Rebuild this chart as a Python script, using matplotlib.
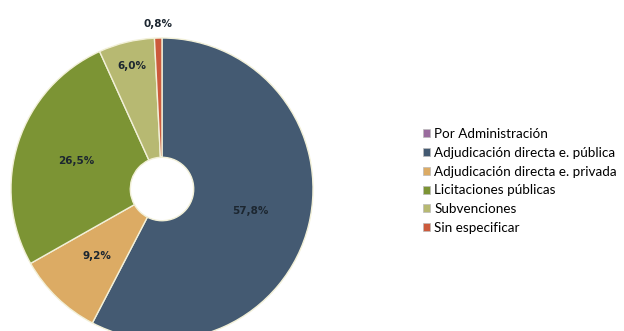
import matplotlib.pyplot as plt
import numpy as np

categorias = ['Por Administración', 'Adjudicación directa e. pública',
              'Adjudicación directa e. privada', 'Licitaciones públicas',
              'Subvenciones', 'Sin especificar']
valores = [0.0, 57.8, 9.2, 26.5, 6.0, 0.8]
etiquetas = ['', '57,8%', '9,2%', '26,5%', '6,0%', '0,8%']

colores = ['#9a6c9e', '#445a72', '#dcab64', '#7c9434', '#b7b972', '#cc5a3c']
# distancia radial de cada etiqueta (como la pone Excel)
dist_etiqueta = [0.6, 0.6, 0.62, 0.6, 0.84, 1.09]

W, H = 624, 331
fig = plt.figure(figsize=(W / 100, H / 100), dpi=100)

# centro del anillo en (162, 189) px desde arriba, radio 151 px
cx, cy, r = 162, H - 189, 151
ax = fig.add_axes([(cx - r) / W, (cy - r) / H, 2 * r / W, 2 * r / H])

wedges, _ = ax.pie(valores, colors=colores, startangle=90, counterclock=False,
                   radius=1, normalize=True,
                   wedgeprops=dict(width=0.79, edgecolor='#f2f0d8', linewidth=1.0))
ax.set_xlim(-1, 1)
ax.set_ylim(-1, 1)

for w, txt, d in zip(wedges, etiquetas, dist_etiqueta):
    if not txt:
        continue
    ang = np.deg2rad((w.theta1 + w.theta2) / 2)
    ax.text(d * np.cos(ang), d * np.sin(ang), txt, ha='center', va='center',
            fontsize=7.5, fontweight='bold', color='#1c2630', family='DejaVu Sans')

leg = fig.legend(wedges, categorias, loc='center left',
                 bbox_to_anchor=(423 / W, 150 / H), frameon=False,
                 prop=dict(family='Lato', size=9.7),
                 handlelength=0.55, handleheight=0.55, handletextpad=0.3,
                 labelspacing=0.5, borderaxespad=0, borderpad=0)
for h in leg.legend_handles:
    h.set_edgecolor('#bbbbbb')
    h.set_linewidth(0.5)

fig.savefig('out.png', dpi=100)
